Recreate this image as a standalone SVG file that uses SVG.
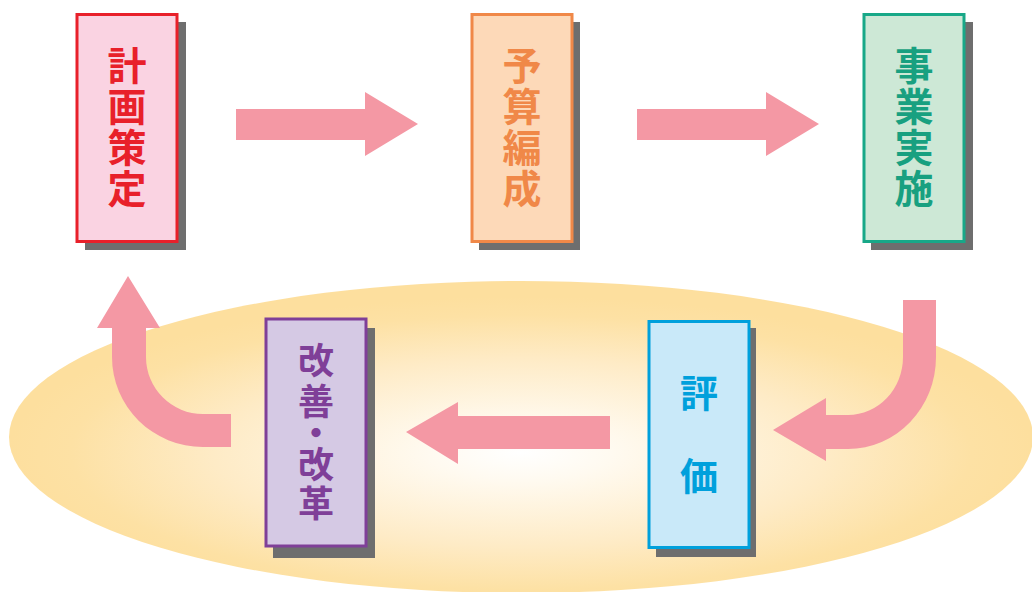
<svg xmlns="http://www.w3.org/2000/svg" width="1032" height="592" viewBox="0 0 1032 592">
<defs>
<radialGradient id="bg" cx="0.5" cy="0.55" r="0.5">
<stop offset="0" stop-color="#ffffff"/>
<stop offset="0.18" stop-color="#fffaf0"/>
<stop offset="0.6" stop-color="#feebc6"/>
<stop offset="0.88" stop-color="#fde1a4"/>
<stop offset="1" stop-color="#fddf9e"/>
</radialGradient>
<style>
.sh{fill:#6e6e6e}
.bx{stroke-width:3}
.t{font-family:"Noto Sans CJK JP","Noto Sans CJK SC",sans-serif;font-weight:700;text-anchor:start;writing-mode:vertical-rl}
.arr{fill:#f498a4}
</style>
</defs>
<rect width="1032" height="592" fill="#ffffff"/>
<ellipse cx="521" cy="437" rx="512" ry="156" fill="url(#bg)"/>
<g id="connectors">
<path class="arr" d="M236,109 H365 V92 L418,124 L365,156 V140 H236 Z"/>
<path class="arr" d="M637,109 H766 V92 L819,124 L766,156 V140 H637 Z"/>
<path class="arr" d="M903,300 H936 V357 A88,92 0 0 1 848,449 H826 V461 L773,430 L826,398 V415 H848 A55,58 0 0 0 903,357 Z"/>
<path class="arr" d="M610,416 V449 H458 V464 L406,432 L458,402 V416 Z"/>
<path class="arr" d="M231,414 V447 H203 A91,90 0 0 1 112,357 V328 H97 L128,276 L160,328 H146 V357 A57,57 0 0 0 203,414 Z"/>
</g>
<g id="node-plan">
<rect class="sh" x="85" y="22" width="101" height="228"/>
<rect class="bx" x="77" y="14.5" width="100" height="227" fill="#fad3e2" stroke="#e8202a"/>
<text class="t" x="127" y="46" fill="#e8202a" font-size="39" letter-spacing="2">計画策定</text>
</g>
<g id="node-budget">
<rect class="sh" x="479" y="22" width="101" height="228"/>
<rect class="bx" x="472" y="14.5" width="100" height="227" fill="#fdd9b8" stroke="#f08848"/>
<text class="t" x="522" y="46" fill="#f08848" font-size="39" letter-spacing="2">予算編成</text>
</g>
<g id="node-exec">
<rect class="sh" x="871" y="22" width="102" height="228"/>
<rect class="bx" x="864" y="14.5" width="100" height="227" fill="#cde8d6" stroke="#18a888"/>
<text class="t" x="914" y="46" fill="#18a080" font-size="39" letter-spacing="2">事業実施</text>
</g>
<g id="node-eval">
<rect class="sh" x="656" y="328" width="100" height="229"/>
<rect class="bx" x="649" y="321.5" width="100" height="226" fill="#c9e9f9" stroke="#00a0dc"/>
<text class="t" x="699" y="374" fill="#00a0dc" font-size="38" letter-spacing="45">評価</text>
</g>
<g id="node-improve">
<rect class="sh" x="273" y="328" width="102" height="230"/>
<rect class="bx" x="266" y="319" width="100" height="227" fill="#d5c9e4" stroke="#7f3f98"/>
<text class="t" x="316" y="342" fill="#7f3f98" font-size="36"><tspan letter-spacing="5">改</tspan><tspan letter-spacing="-4">善</tspan><tspan letter-spacing="-5">・</tspan><tspan letter-spacing="3">改</tspan>革</text>
</g>
</svg>
